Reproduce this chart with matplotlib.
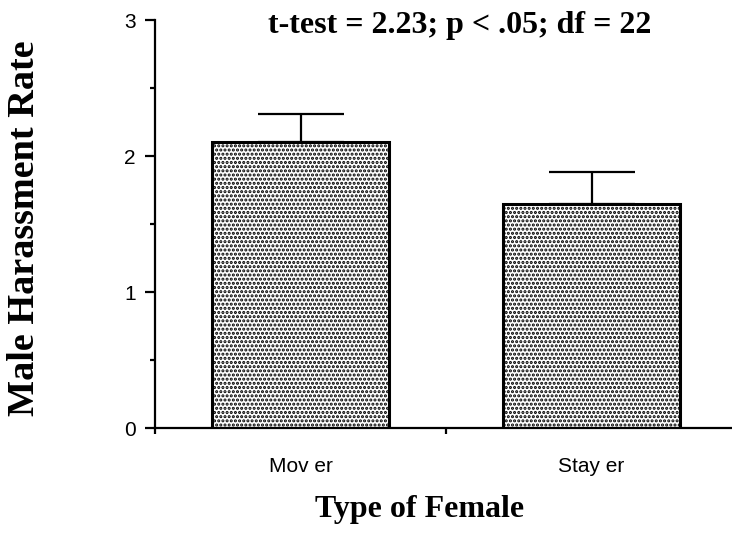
import numpy as np
import matplotlib.pyplot as plt

# group means and upper SEM for each female type
groups = ['Mov er', 'Stay er']
means = [2.10, 1.65]
sem = [0.21, 0.23]

stats_text = 't-test = 2.23; p < .05; df = 22'

plt.rcParams['hatch.linewidth'] = 1.5
plt.rcParams['hatch.color'] = 'black'

fig = plt.figure(figsize=(7.32, 5.34), dpi=100)
ax = fig.add_axes([155 / 732, 1 - 428 / 534, 582 / 732, 408 / 534])

x = np.arange(len(groups))
ax.bar(x, means, width=0.61, color='white', edgecolor='black',
       linewidth=2.2, hatch='....', zorder=2)
ax.errorbar(x, means, yerr=[np.zeros(len(sem)), sem], fmt='none',
            ecolor='black', elinewidth=1.6, capsize=31, capthick=1.6, zorder=1)

ax.set_xlim(-0.5, 1.5)
ax.set_ylim(0, 3)
for side in ['top', 'right']:
    ax.spines[side].set_visible(False)
for side in ['left', 'bottom']:
    ax.spines[side].set_linewidth(1.6)

ax.set_yticks([0, 1, 2, 3])
ax.set_yticks([0.5, 1.5, 2.5], minor=True)
ax.tick_params(axis='y', which='major', length=7, width=1.6, pad=7,
               labelsize=15)
ax.tick_params(axis='y', which='minor', length=3.6, width=1.6)
for lab in ax.get_yticklabels():
    lab.set_family('Liberation Sans')

ax.set_xticks(x)
ax.set_xticklabels(groups, family='Liberation Sans', fontsize=15)
ax.set_xticks([-0.5, 0.5, 1.5], minor=True)
ax.tick_params(axis='x', which='major', length=0, pad=21)
ax.tick_params(axis='x', which='minor', length=4, width=1.6)

fig.text(25 / 732, 1 - 228 / 534, 'Male Harassment Rate', rotation=90,
         ha='center', va='center', family='Liberation Serif',
         fontweight='bold', fontsize=27.5)
fig.text(420 / 732, 1 - 510 / 534, 'Type of Female', ha='center', va='center',
         family='Liberation Serif', fontweight='bold', fontsize=23)
fig.text(460 / 732, 1 - 26 / 534, stats_text, ha='center', va='center',
         family='Liberation Serif', fontweight='bold', fontsize=23)

fig.savefig('out.png', dpi=100)
